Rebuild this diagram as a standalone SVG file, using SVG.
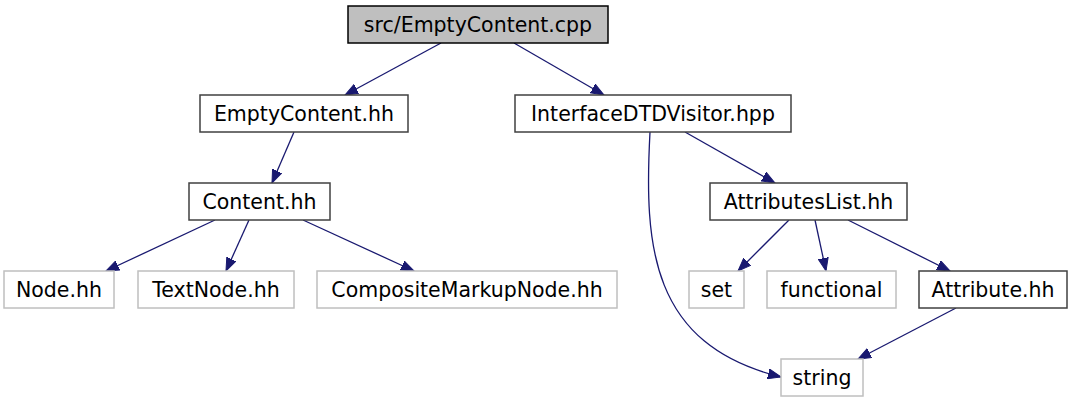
<svg xmlns="http://www.w3.org/2000/svg" width="1072" height="403" viewBox="0 0 1072 403">
<style>
text{font-family:"DejaVu Sans","Liberation Sans",sans-serif;font-size:20.5px;text-anchor:middle;fill:#000}
.n rect{fill:#fff;stroke:#404040;stroke-width:1.5}
.g rect{fill:#fff;stroke:#bfbfbf;stroke-width:1.5}
.r rect{fill:#bfbfbf;stroke:#000;stroke-width:1.5}
.e path{fill:none;stroke:#191970;stroke-width:1.3;marker-end:url(#a)}
</style>
<defs>
<marker id="a" markerUnits="userSpaceOnUse" markerWidth="14" markerHeight="11" refX="13" refY="5.5" orient="auto">
<path d="M0,0.5 L13,5.5 L0,10.5 z" fill="#191970" stroke="#191970"/>
</marker>
</defs>
<rect width="1072" height="403" fill="#fff"/>
<g id="edges" class="e">
<path d="M441,43 L345,95"/>
<path d="M514,43 L604,95"/>
<path d="M294,132 L272,183"/>
<path d="M215,220 L106,271"/>
<path d="M249,220 L226,271"/>
<path d="M303,220 L414,271"/>
<path d="M685,132 L775,183"/>
<path d="M650,132 C644,245 650,345 781,377"/>
<path d="M789,220 L738,271"/>
<path d="M815,220 L826,271"/>
<path d="M848,220 L950,271"/>
<path d="M956,308 L858,359"/>
</g>
<g id="root" class="r"><rect x="348" y="6" width="260" height="37"/><text x="478" y="32">src/EmptyContent.cpp</text></g>
<g id="emptycontent" class="n"><rect x="200" y="95" width="208" height="37"/><text x="304" y="121">EmptyContent.hh</text></g>
<g id="interface" class="n"><rect x="515" y="95" width="276" height="37"/><text x="653" y="121">InterfaceDTDVisitor.hpp</text></g>
<g id="content" class="n"><rect x="189" y="183" width="141" height="37"/><text x="259.5" y="209">Content.hh</text></g>
<g id="attributeslist" class="n"><rect x="710" y="183" width="197" height="37"/><text x="808.5" y="209">AttributesList.hh</text></g>
<g id="node" class="g"><rect x="4" y="271" width="110" height="37"/><text x="59" y="297">Node.hh</text></g>
<g id="textnode" class="g"><rect x="138" y="271" width="156" height="37"/><text x="216" y="297">TextNode.hh</text></g>
<g id="composite" class="g"><rect x="317" y="271" width="300" height="37"/><text x="467" y="297">CompositeMarkupNode.hh</text></g>
<g id="set" class="g"><rect x="689" y="271" width="55" height="37"/><text x="716.5" y="297">set</text></g>
<g id="functional" class="g"><rect x="767" y="271" width="129" height="37"/><text x="831.5" y="297">functional</text></g>
<g id="attribute" class="n"><rect x="919" y="271" width="148" height="37"/><text x="993" y="297">Attribute.hh</text></g>
<g id="string" class="g"><rect x="781" y="359" width="82" height="37"/><text x="822" y="385">string</text></g>
</svg>
